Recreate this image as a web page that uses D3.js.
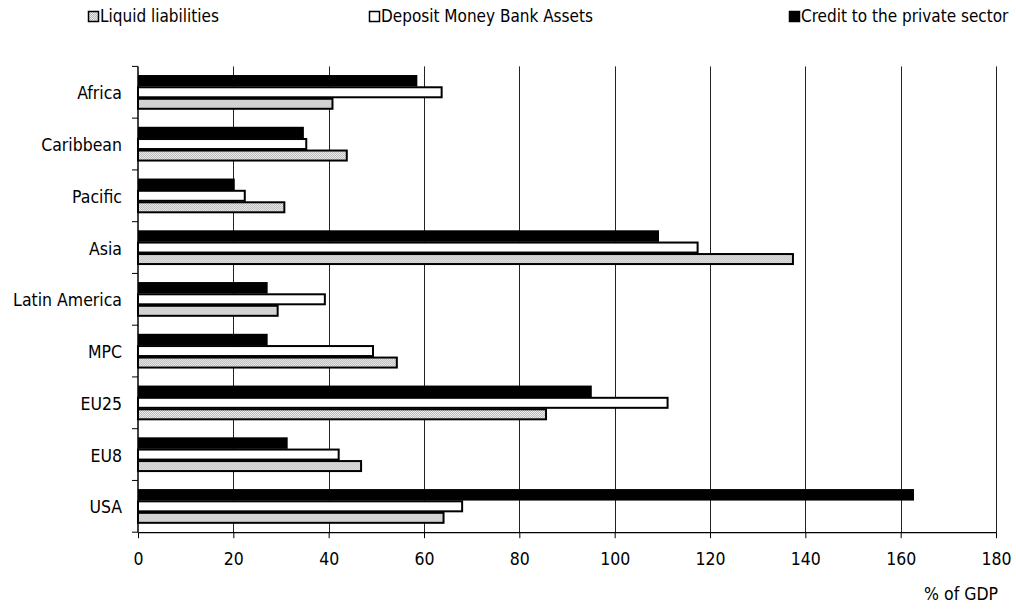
<!DOCTYPE html>
<html>
<head>
<meta charset="utf-8">
<script src="https://cdn.jsdelivr.net/npm/d3@7"></script>
<style>
  html, body { margin: 0; padding: 0; background: #fff; }
  svg { display: block; }
  text { font-family: "DejaVu Sans Condensed", "DejaVu Sans", sans-serif; font-stretch: condensed; fill: #000; }
</style>
</head>
<body>
<svg id="chart" width="1016" height="610"></svg>
<script>
// Financial depth by region, % of GDP
const regions = ["Africa", "Caribbean", "Pacific", "Asia", "Latin America", "MPC", "EU25", "EU8", "USA"];
const seriesNames = ["Credit to the private sector", "Deposit Money Bank Assets", "Liquid liabilities"];
const creditPrivate = [58.6, 34.8, 20.3, 109.3, 27.2, 27.2, 95.2, 31.4, 162.8];
const depositBank   = [63.7, 35.3, 22.4, 117.4, 39.2, 49.3, 111.1, 42.1, 68.0];
const liquidLiab    = [40.8, 43.8, 30.7, 137.4, 29.3, 54.3, 85.6, 46.8, 64.1];
const xTicks = [0, 20, 40, 60, 80, 100, 120, 140, 160, 180];
const legendOrder = ["Liquid liabilities", "Deposit Money Bank Assets", "Credit to the private sector"];

const valuesBySeries = {
  "Credit to the private sector": creditPrivate,
  "Deposit Money Bank Assets": depositBank,
  "Liquid liabilities": liquidLiab
};

const FONT = "'DejaVu Sans Condensed', 'DejaVu Sans', sans-serif";
const svg = d3.select("#chart");

// Fine dotted fill for the liquid liabilities bars
const defs = svg.append("defs");
const pat = defs.append("pattern")
  .attr("id", "dots").attr("width", 2).attr("height", 2)
  .attr("patternUnits", "userSpaceOnUse");
pat.append("rect").attr("width", 2).attr("height", 2).attr("fill", "#eeeeee");
pat.append("rect").attr("width", 1).attr("height", 1).attr("fill", "#b8b8b8");
pat.append("rect").attr("x", 1).attr("y", 1).attr("width", 1).attr("height", 1).attr("fill", "#b8b8b8");

const fills = {
  "Credit to the private sector": "#000",
  "Deposit Money Bank Assets": "#fff",
  "Liquid liabilities": "url(#dots)"
};

const plotLeft = 138, plotRight = 996, plotTop = 66.4, plotBottom = 532.2;

const x = d3.scaleLinear().domain([0, 180]).range([plotLeft, plotRight]);
const y0 = d3.scaleBand().domain(regions).range([plotTop, plotBottom]).paddingInner(0).paddingOuter(0);
const y1 = d3.scaleBand().domain(seriesNames).range([0, y0.bandwidth()]).paddingInner(0).paddingOuter(0.75);

// Vertical gridlines
svg.append("g").selectAll("line")
  .data(xTicks.filter(d => d > 0))
  .join("line")
  .attr("x1", d => Math.round(x(d)) + 0.5).attr("x2", d => Math.round(x(d)) + 0.5)
  .attr("y1", plotTop).attr("y2", plotBottom)
  .attr("stroke", "#222").attr("stroke-width", 1);

// Bars
const groups = svg.append("g").selectAll("g")
  .data(regions)
  .join("g")
  .attr("transform", d => `translate(0,${y0(d)})`);

groups.selectAll("rect")
  .data((r, i) => seriesNames.map(s => ({ s, v: valuesBySeries[s][i] })))
  .join("rect")
  .attr("x", x(0))
  .attr("y", d => y1(d.s) + (d.s === seriesNames[0] ? 0 : 0.75))
  .attr("width", d => x(d.v) - x(0))
  .attr("height", d => y1.bandwidth() - (d.s === seriesNames[0] ? 0 : 1.5))
  .attr("fill", d => fills[d.s])
  .attr("stroke", d => d.s === seriesNames[0] ? "none" : "#000")
  .attr("stroke-width", 2);

// Bottom axis
const xAxis = svg.append("g")
  .attr("transform", `translate(0,${plotBottom})`)
  .call(d3.axisBottom(x).tickValues(xTicks).tickSize(6).tickPadding(14).tickSizeOuter(0));
xAxis.select(".domain").attr("stroke", "#000").attr("stroke-width", 1.2);
xAxis.selectAll(".tick line").attr("stroke", "#000");
xAxis.selectAll(".tick text")
  .style("font-family", FONT)
  .style("font-stretch", "condensed")
  .style("font-size", "17.5px");

// Left axis with ticks at band boundaries
const leftAxis = svg.append("g");
leftAxis.append("line")
  .attr("x1", plotLeft).attr("x2", plotLeft).attr("y1", plotTop).attr("y2", plotBottom)
  .attr("stroke", "#000").attr("stroke-width", 1.5);
const boundaries = regions.map(r => y0(r)).concat([plotBottom]);
leftAxis.selectAll("line.tk")
  .data(boundaries)
  .join("line").attr("class", "tk")
  .attr("x1", plotLeft - 6).attr("x2", plotLeft)
  .attr("y1", d => d).attr("y2", d => d)
  .attr("stroke", "#000").attr("stroke-width", 1);
leftAxis.selectAll("text")
  .data(regions)
  .join("text")
  .attr("x", plotLeft - 16)
  .attr("y", d => y0(d) + y0.bandwidth() / 2 + 1)
  .attr("dy", "0.35em")
  .attr("text-anchor", "end")
  .style("font-size", "17.5px")
  .text(d => d);

// Axis title
svg.append("text")
  .attr("x", 998).attr("y", 594)
  .attr("dy", "0.35em")
  .attr("text-anchor", "end")
  .style("font-size", "17.5px")
  .text("% of GDP");

// Legend
const legendX = [88, 369, 789];
const legend = svg.append("g").selectAll("g")
  .data(legendOrder)
  .join("g")
  .attr("transform", (d, i) => `translate(${legendX[i]},11)`);
legend.append("rect")
  .attr("x", 0.5).attr("y", 0.5).attr("width", 10).attr("height", 10)
  .attr("fill", d => fills[d])
  .attr("stroke", "#000").attr("stroke-width", 1.5);
legend.append("text")
  .attr("x", 12).attr("y", 5.5).attr("dy", "0.35em")
  .style("font-size", "17px")
  .text(d => d);
</script>
</body>
</html>
